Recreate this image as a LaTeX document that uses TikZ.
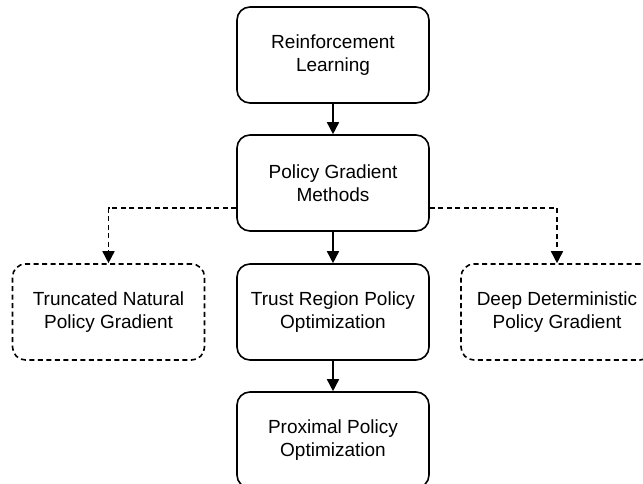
\documentclass[tikz,border=0pt]{standalone}
\usepackage{fontspec}
\setmainfont{Liberation Sans}
\usetikzlibrary{arrows.meta}
\begin{document}
\begin{tikzpicture}[x=1pt,y=-1pt,
  box/.style={draw, line width=1.6pt, rounded corners=13pt,
    minimum width=192pt, minimum height=96pt, align=center,
    font=\fontsize{19}{22.5}\selectfont},
  dbox/.style={box, dash pattern=on 5pt off 3.5pt},
  link/.style={line width=1.6pt, -{Triangle[length=12pt,width=12pt]}},
  dlink/.style={link, dash pattern=on 5pt off 3.5pt}]
\useasboundingbox (0,0) rectangle (643,484);
\node[box]  (rl)   at (333,55)    {Reinforcement\\Learning};
\node[box]  (pg)   at (333,183)   {Policy Gradient\\Methods};
\node[dbox] (tnpg) at (108.5,312) {Truncated Natural\\Policy Gradient};
\node[box]  (trpo) at (333,312)   {Trust Region Policy\\Optimization};
\node[dbox] (ddpg) at (557,312)   {Deep Deterministic\\Policy Gradient};
\node[box]  (ppo)  at (333,440)   {Proximal Policy\\Optimization};
\draw[link] (rl) -- (pg);
\draw[link] (pg) -- (trpo);
\draw[link] (trpo) -- (ppo);
\draw[dlink] ([yshift=-25pt]pg.west) -| (tnpg.north);
\draw[dlink] ([yshift=-25pt]pg.east) -| (ddpg.north);
\end{tikzpicture}
\end{document}
